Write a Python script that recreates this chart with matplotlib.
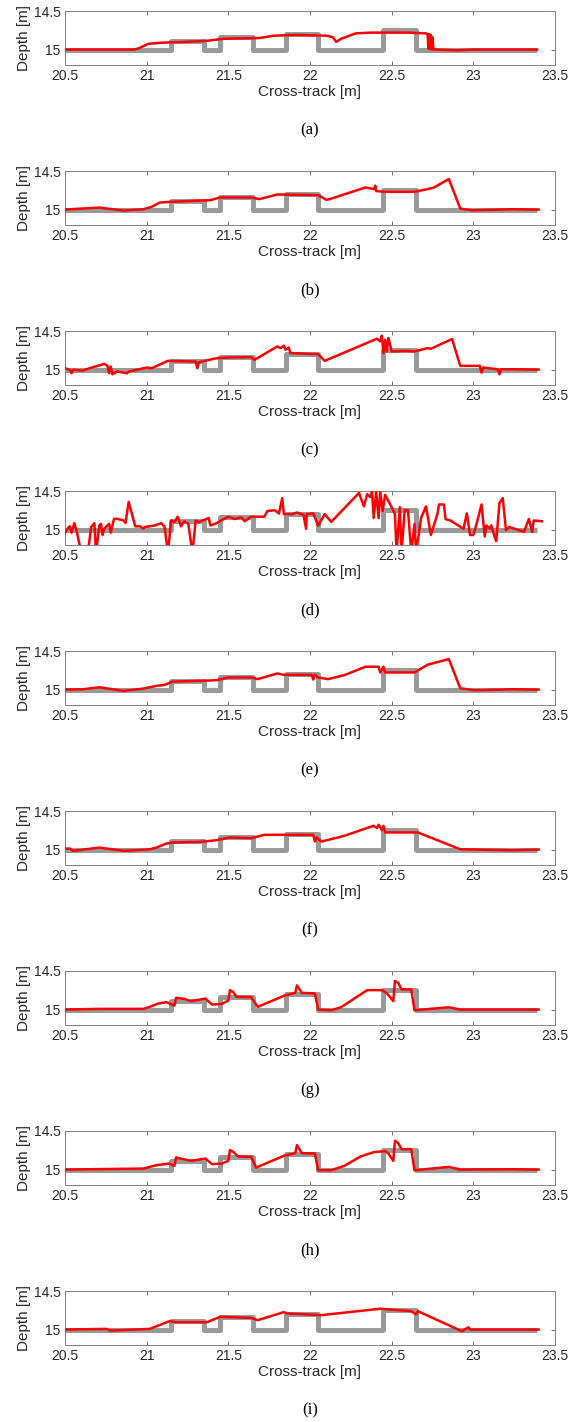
import matplotlib
matplotlib.use("Agg")
import matplotlib.pyplot as plt
import numpy as np

# true profile (gray): step edges along cross-track and depth of each segment
edges = [20.5, 21.15, 21.35, 21.45, 21.65, 21.85, 22.05, 22.45, 22.65, 23.39]
levels = [15.0, 14.89, 15.0, 14.84, 15.0, 14.80, 15.0, 14.74, 15.0]

# estimated profiles (red), one per panel
a_x = [20.50, 20.92, 20.95, 21.01, 21.10, 21.24, 21.375, 21.47, 21.69, 21.78, 21.92,
       22.10, 22.14, 22.16, 22.19, 22.28, 22.375, 22.60, 22.71, 22.72, 22.725, 22.73,
       22.735, 22.74, 22.745, 22.75, 22.755, 22.76, 22.77, 22.90, 23.00, 23.39]
a_d = [15.00, 15.00, 14.985, 14.925, 14.91, 14.90, 14.885, 14.86, 14.85, 14.82, 14.81,
       14.82, 14.84, 14.90, 14.86, 14.79, 14.78, 14.78, 14.79, 14.80, 14.99, 14.80,
       14.99, 14.81, 15.00, 14.84, 15.00, 14.99, 15.00, 15.01, 15.00, 15.00]

b_x = [20.50, 20.71, 20.86, 20.98, 21.03, 21.08, 21.14, 21.39, 21.45, 21.64, 21.69,
       21.80, 22.05, 22.10, 22.12, 22.34, 22.39, 22.40, 22.405, 22.46, 22.64, 22.72,
       22.76, 22.85, 22.92, 22.99, 23.24, 23.40]
b_d = [15.00, 14.974, 15.013, 14.996, 14.965, 14.909, 14.90, 14.878, 14.843, 14.843, 14.865,
       14.804, 14.813, 14.874, 14.865, 14.713, 14.735, 14.69, 14.76, 14.77, 14.77, 14.735,
       14.713, 14.604, 14.987, 15.009, 14.996, 15.00]

c_x = [20.50, 20.53, 20.54, 20.55, 20.61, 20.65, 20.74, 20.76, 20.77, 20.78, 20.79,
       20.82, 20.88, 20.89, 21.00, 21.03, 21.13, 21.30, 21.31, 21.32, 21.43, 21.51,
       21.64, 21.66, 21.80, 21.82, 21.84, 21.85, 21.87, 21.88, 22.05, 22.09, 22.41,
       22.43, 22.44, 22.45, 22.46, 22.47, 22.48, 22.49, 22.50, 22.58, 22.64, 22.72,
       22.74, 22.87, 22.92, 23.04, 23.05, 23.06, 23.15, 23.16, 23.17, 23.24, 23.40]
c_d = [14.983, 15.004, 15.048, 15.004, 15.013, 14.983, 14.926, 14.952, 15.048, 14.961, 15.061,
       15.026, 15.048, 15.026, 14.974, 14.983, 14.887, 14.896, 14.983, 14.904, 14.852, 14.843,
       14.839, 14.874, 14.70, 14.722, 14.691, 14.743, 14.713, 14.787, 14.80, 14.887, 14.60,
       14.635, 14.561, 14.787, 14.613, 14.765, 14.591, 14.678, 14.765, 14.757, 14.765, 14.722,
       14.73, 14.604, 14.952, 14.952, 15.039, 14.974, 14.996, 15.061, 14.996, 14.996, 15.00]

d_x = [20.50, 20.52, 20.53, 20.54, 20.557, 20.57, 20.60, 20.64, 20.66, 20.68, 20.69,
       20.71, 20.72, 20.73, 20.74, 20.77, 20.78, 20.80, 20.82, 20.86, 20.87, 20.89,
       20.93, 20.96, 20.98, 20.99, 21.05, 21.09, 21.11, 21.13, 21.15, 21.17, 21.19,
       21.21, 21.23, 21.255, 21.28, 21.30, 21.32, 21.38, 21.39, 21.42, 21.50, 21.54,
       21.58, 21.60, 21.64, 21.72, 21.74, 21.785, 21.81, 21.83, 21.84, 21.89, 21.92,
       21.96, 21.976, 21.98, 22.02, 22.05, 22.09, 22.13, 22.30, 22.33, 22.35, 22.37,
       22.38, 22.39, 22.405, 22.42, 22.43, 22.445, 22.46, 22.48, 22.50, 22.52, 22.53,
       22.55, 22.56, 22.58, 22.60, 22.62, 22.64, 22.65, 22.68, 22.71, 22.74, 22.78,
       22.79, 22.82, 22.83, 22.86, 22.94, 22.96, 22.98, 23.00, 23.02, 23.05, 23.07,
       23.08, 23.10, 23.11, 23.13, 23.14, 23.16, 23.18, 23.20, 23.22, 23.31, 23.34,
       23.36, 23.37, 23.42]
d_d = [15.04, 14.975, 14.958, 15.04, 14.917, 15.008, 15.30, 15.30, 14.967, 14.917, 15.30,
       14.946, 14.925, 15.07, 14.99, 14.925, 15.04, 14.861, 14.861, 14.883, 14.917, 14.642,
       14.958, 14.958, 14.988, 14.967, 14.946, 14.917, 14.967, 15.30, 14.883, 14.904, 14.833,
       14.958, 14.892, 14.925, 15.30, 14.883, 14.904, 14.85, 14.946, 14.925, 14.833, 14.863,
       14.842, 14.892, 14.833, 14.833, 14.758, 14.75, 14.792, 14.592, 14.80, 14.80, 14.779,
       14.808, 14.99, 14.80, 14.79, 14.95, 14.80, 14.90, 14.525, 14.70, 14.54, 14.58,
       14.51, 14.85, 14.51, 14.85, 14.51, 14.76, 14.55, 14.63, 14.71, 14.80, 15.30,
       14.71, 15.30, 14.75, 14.75, 15.30, 14.925, 15.30, 14.85, 14.70, 15.07, 14.80,
       14.675, 14.675, 14.865, 14.883, 14.99, 14.79, 15.07, 15.07, 14.925, 14.675, 15.09,
       14.946, 14.988, 14.946, 15.09, 15.15, 14.654, 14.592, 15.008, 14.967, 15.03, 14.863,
       15.03, 14.883, 14.892]

e_x = [20.50, 20.61, 20.71, 20.86, 20.98, 21.06, 21.11, 21.16, 21.33, 21.43, 21.50,
       21.64, 21.68, 21.80, 21.84, 22.01, 22.02, 22.03, 22.05, 22.11, 22.21, 22.34,
       22.42, 22.43, 22.45, 22.46, 22.64, 22.72, 22.85, 22.92, 23.01, 23.24, 23.40]
e_d = [15.00, 14.996, 14.97, 15.017, 14.987, 14.952, 14.939, 14.896, 14.887, 14.878, 14.843,
       14.843, 14.865, 14.791, 14.809, 14.809, 14.87, 14.809, 14.843, 14.865, 14.813, 14.704,
       14.704, 14.778, 14.704, 14.778, 14.778, 14.678, 14.604, 14.983, 15.009, 14.996, 15.00]

f_x = [20.50, 20.53, 20.55, 20.71, 20.86, 21.02, 21.06, 21.12, 21.16, 21.33, 21.43,
       21.51, 21.64, 21.72, 21.84, 22.02, 22.03, 22.04, 22.07, 22.21, 22.39, 22.41,
       22.42, 22.44, 22.45, 22.46, 22.66, 22.92, 23.24, 23.40]
f_d = [14.987, 14.987, 15.017, 14.974, 15.017, 14.996, 14.974, 14.922, 14.909, 14.90, 14.878,
       14.843, 14.852, 14.809, 14.809, 14.809, 14.896, 14.843, 14.896, 14.822, 14.691, 14.722,
       14.678, 14.748, 14.691, 14.778, 14.778, 14.996, 15.009, 15.00]

g_x = [20.50, 20.71, 20.98, 21.02, 21.07, 21.12, 21.17, 21.18, 21.23, 21.27, 21.36,
       21.40, 21.46, 21.50, 21.51, 21.53, 21.55, 21.64, 21.68, 21.84, 21.91, 21.92,
       21.95, 22.03, 22.05, 22.13, 22.19, 22.35, 22.44, 22.47, 22.51, 22.52, 22.54,
       22.56, 22.62, 22.64, 22.85, 22.92, 23.24, 23.40]
g_d = [15.00, 14.991, 14.991, 14.965, 14.922, 14.904, 14.948, 14.848, 14.861, 14.891, 14.857,
       14.935, 14.926, 14.883, 14.748, 14.774, 14.835, 14.839, 14.965, 14.822, 14.783, 14.687,
       14.783, 14.791, 15.00, 15.009, 14.97, 14.748, 14.748, 14.787, 14.891, 14.63, 14.652,
       14.739, 14.739, 15.009, 14.97, 15.00, 15.00, 15.00]

h_x = [20.50, 20.98, 21.06, 21.14, 21.17, 21.18, 21.27, 21.36, 21.40, 21.46, 21.50,
       21.51, 21.53, 21.56, 21.64, 21.67, 21.84, 21.91, 21.92, 21.95, 22.03, 22.05,
       22.13, 22.21, 22.31, 22.39, 22.46, 22.48, 22.51, 22.52, 22.54, 22.56, 22.62,
       22.64, 22.85, 22.92, 23.24, 23.40]
h_d = [15.00, 14.987, 14.943, 14.922, 14.952, 14.843, 14.887, 14.857, 14.93, 14.922, 14.887,
       14.748, 14.77, 14.83, 14.835, 14.974, 14.822, 14.787, 14.683, 14.787, 14.791, 15.009,
       15.009, 14.952, 14.83, 14.774, 14.761, 14.791, 14.887, 14.626, 14.657, 14.735, 14.735,
       15.009, 14.965, 15.00, 14.996, 15.00]

i_x = [20.50, 20.75, 20.78, 21.02, 21.06, 21.14, 21.18, 21.37, 21.45, 21.64, 21.68,
       21.84, 21.86, 22.07, 22.43, 22.62, 22.65, 22.66, 22.93, 22.97, 22.98, 23.24, 23.40]
i_d = [15.00, 14.991, 15.013, 14.991, 14.957, 14.891, 14.904, 14.904, 14.835, 14.848, 14.878,
       14.774, 14.791, 14.813, 14.73, 14.761, 14.804, 14.761, 15.022, 14.97, 15.00, 15.00, 15.00]

panels = [(a_x, a_d), (b_x, b_d), (c_x, c_d), (d_x, d_d), (e_x, e_d),
          (f_x, f_d), (g_x, g_d), (h_x, h_d), (i_x, i_d)]
letters = ["(a)", "(b)", "(c)", "(d)", "(e)", "(f)", "(g)", "(h)", "(i)"]

xticks = [20.5, 21, 21.5, 22, 22.5, 23, 23.5]
xtick_labels = ["20.5", "21", "21.5", "22", "22.5", "23", "23.5"]

W, H = 580, 1422
fig = plt.figure(figsize=(W / 100, H / 100), dpi=100)

sans = "Liberation Sans"
serif = "Liberation Serif"

# axes box in pixels, one panel every 160 px
left_px, width_px, height_px = 65, 490, 54
for k, (xs, ds) in enumerate(panels):
    top = 11 + 160 * k
    ax = fig.add_axes([left_px / W, 1 - (top + height_px) / H, width_px / W, height_px / H])
    ax.plot(edges, levels + [levels[-1]], drawstyle="steps-post", color="#999999",
            lw=3.6, solid_joinstyle="round", solid_capstyle="butt", zorder=2)
    ax.plot(xs, ds, color="#ff0000", lw=1.8, zorder=3)
    ax.set_xlim(20.5, 23.5)
    ax.set_ylim(15.2, 14.5)
    ax.set_xticks(xticks)
    ax.set_xticklabels(xtick_labels, fontfamily=sans, fontsize=10, color="#262626")
    ax.set_yticks([14.5, 15])
    ax.set_yticklabels(["14.5", "15"], fontfamily=sans, fontsize=10, color="#262626")
    ax.tick_params(direction="in", length=3, width=0.6, color="#555555",
                   top=True, right=True, pad=3)
    for s in ax.spines.values():
        s.set_color("#808080")
        s.set_linewidth(0.7)
    ax.set_xlabel("Cross-track [m]", fontfamily=sans, fontsize=11, labelpad=1.5, color="#262626")
    ax.set_ylabel("Depth [m]", fontfamily=sans, fontsize=11, labelpad=2, color="#262626")
    fig.text((left_px + width_px / 2) / W, 1 - (top + 119) / H, letters[k],
             fontfamily=serif, fontsize=12, ha="center", va="center")

fig.savefig("out.png", dpi=100)
